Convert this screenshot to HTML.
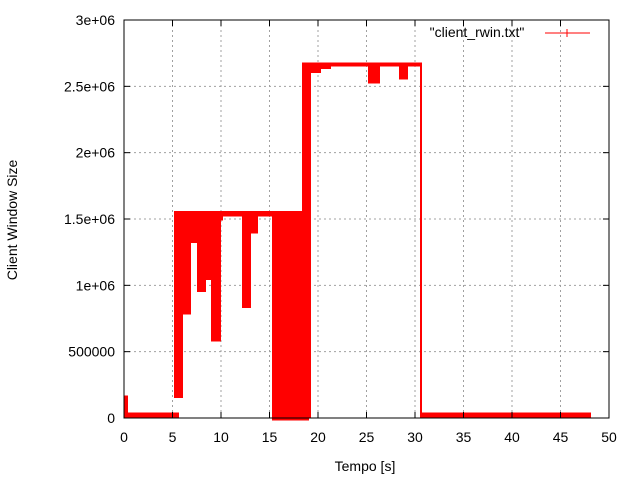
<!DOCTYPE html>
<html><head><meta charset="utf-8"><style>
body{margin:0;background:#fff}
svg{display:block;font-family:"Liberation Sans",sans-serif}
</style></head><body>
<svg id="c" width="640" height="480">
<g id="grid"></g>
<g id="series" shape-rendering="crispEdges"></g>
<g id="axes"></g>
<text x="477" y="37" font-size="14" text-anchor="middle" fill="#000">"client_rwin.txt"</text>
<g><line x1="545" y1="33" x2="590" y2="33" stroke="#f00"/><line x1="567" y1="29" x2="567" y2="37" stroke="#f00"/></g>
<text x="365" y="471" font-size="14" text-anchor="middle">Tempo [s]</text>
<text transform="translate(17,220) rotate(-90)" font-size="14" text-anchor="middle">Client Window Size</text>
</svg>
<script>
const xTicks=[0,5,10,15,20,25,30,35,40,45,50];
const yTicks=[0,500000,1000000,1500000,2000000,2500000,3000000];
const yTickLabels=["0","500000","1e+06","1.5e+06","2e+06","2.5e+06","3e+06"];
const segStart=[0,0.3,5.2,5.9,6.0,6.8,7.0,7.6,8.3,9.0,9.8,10.1,12.2,12.9,13.7,15.3,18.4,19.1,20.2,21.2,25.2,26.2,28.4,29.1,30.6];
const segEnd=[0.3,5.5,5.9,6.0,6.8,7.0,7.6,8.3,9.0,9.8,10.1,12.2,12.9,13.7,15.3,18.9,19.1,20.2,21.2,25.2,26.2,28.4,29.1,30.6,48];
const segLow=[0,0,150000,1060000,780000,1390000,1320000,950000,1040000,575000,1490000,1520000,830000,1390000,1520000,-20000,0,2600000,2630000,2650000,2520000,2650000,2550000,2650000,0];
const segHigh=[170000,40000,1560000,1560000,1560000,1560000,1560000,1560000,1560000,1560000,1560000,1560000,1560000,1560000,1560000,1560000,2680000,2680000,2680000,2680000,2680000,2680000,2680000,2680000,40000];
const L=124,R=609,T=20,B=418;
const xs=v=>L+(v-0)/50*(R-L);
const ys=v=>B-v/3000000*(B-T);
const NS="http://www.w3.org/2000/svg";
function mk(t,a,p){const e=document.createElementNS(NS,t);for(const k in a)e.setAttribute(k,a[k]);p.appendChild(e);return e;}
const grid=document.getElementById('grid'),axes=document.getElementById('axes'),ser=document.getElementById('series');
xTicks.forEach(v=>{const x=xs(v);
 if(v>0&&v<50){const g=mk('line',{x1:x,y1:T,x2:x,y2:B,stroke:'#a0a0a0','stroke-dasharray':'2,3'},grid);
 
 }
 mk('line',{x1:x,y1:B,x2:x,y2:B-6,stroke:'#000'},axes);mk('line',{x1:x,y1:T,x2:x,y2:T+6,stroke:'#000'},axes);
 const t=mk('text',{x:x,y:B+24,'font-size':14,'text-anchor':'middle'},axes);t.textContent=v;
 
 });
yTicks.forEach((v,i)=>{const y=ys(v);
 if(i>0&&i<yTicks.length-1){const g=mk('line',{x1:L,y1:y,x2:R,y2:y,stroke:'#a0a0a0','stroke-dasharray':'2,3'},grid);
 
 }
 mk('line',{x1:L,y1:y,x2:L+6,y2:y,stroke:'#000'},axes);mk('line',{x1:R,y1:y,x2:R-6,y2:y,stroke:'#000'},axes);
 const t=mk('text',{x:L-9,y:y+5,'font-size':14,'text-anchor':'end'},axes);t.textContent=yTickLabels[i];
 
 });
mk('rect',{x:L,y:T,width:R-L,height:B-T,fill:'none',stroke:'#000'},axes);
segStart.forEach((s,i)=>{const x0=Math.floor(xs(s)),x1=Math.ceil(xs(segEnd[i]));const y0=ys(segHigh[i]),y1=ys(segLow[i]);
 const r=mk('rect',{x:x0,y:y0,width:Math.max(1,x1-x0+1),height:Math.max(1,y1-y0),fill:'#f00'},ser);
 
 });
mk('line',{x1:xs(30.6),y1:ys(2680000),x2:xs(30.6),y2:ys(0),stroke:'#f00','stroke-width':2},ser);
</script>
</body></html>
